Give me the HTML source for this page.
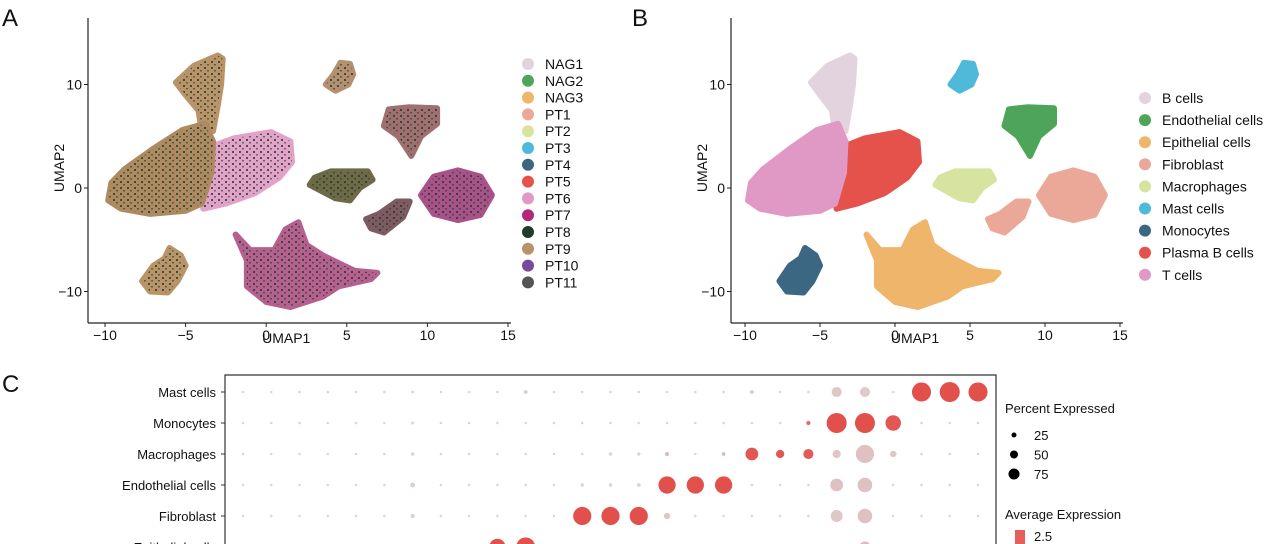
<!DOCTYPE html>
<html><head><meta charset="utf-8">
<style>
html,body{margin:0;padding:0;background:#fff;width:1280px;height:544px;overflow:hidden;font-family:"Liberation Sans",sans-serif;}
svg{position:absolute;left:0;top:0;overflow:hidden}
text{font-family:"Liberation Sans",sans-serif;fill:#111}
</style></head>
<body>
<svg id="fig" width="1280" height="544" viewBox="0 0 1280 544">
<defs>
<pattern id="spk" width="7" height="6" patternUnits="userSpaceOnUse">
<rect x="1" y="1" width="2" height="2" fill="#1f3d2a" opacity="0.8"/>
<rect x="4" y="4" width="2" height="1.5" fill="#1f3d2a" opacity="0.6"/>
</pattern>
<clipPath id="frame"><rect x="0" y="0" width="1280" height="544"/></clipPath>
</defs>
</svg>
<script>
// ---------- data ----------
const clusterNames = ["B cells","Endothelial cells","Epithelial cells","Fibroblast","Macrophages","Mast cells","Monocytes","Plasma B cells","T cells"];
const clusterColorsB = ["#e3d3de","#4ea55a","#efb66b","#eba898","#d6e49f","#4fb9d9","#3c6782","#e5524c","#e098c5"];
const polyBcells = [[-3.0,12.8],[-4.5,11.8],[-5.6,10.2],[-5.0,9.0],[-4.2,7.5],[-4.0,5.5],[-3.3,5.5],[-3.0,8],[-2.8,10],[-2.7,12.5]];
const polyEndo = [[7.6,7.6],[8.8,7.8],[10.6,7.7],[10.6,6.2],[9.6,5.0],[9.0,3.1],[8.2,5.0],[7.3,6.0]];
const polyEpi = [[-1.9,-4.5],[-1.0,-6.0],[0.5,-6.0],[1.2,-4.0],[2.0,-3.3],[2.5,-5.5],[3.5,-6.5],[4.8,-7.5],[5.5,-8.0],[6.9,-8.2],[6.5,-8.8],[4.5,-9.5],[3.5,-10.5],[1.5,-11.5],[0.0,-11.0],[-1.2,-9.5],[-1.2,-7.0]];
const polyFibroBig = [[11.9,1.7],[13.3,1.1],[14.0,-0.7],[13.3,-2.6],[11.9,-3.1],[10.4,-2.5],[9.6,-0.7],[10.4,1.1]];
const polyFibroSmall = [[6.5,-3.9],[7.3,-4.3],[8.5,-2.8],[8.9,-1.3],[8.1,-1.3],[7.0,-2.5],[6.2,-3.0]];
const polyMacro = [[3.0,1.0],[4.0,1.6],[6.3,1.6],[6.6,0.8],[5.8,0.0],[5.2,-1.2],[4.3,-1.0],[2.7,0.3]];
const polyMast = [[4.6,12.1],[5.2,12.0],[5.4,11.0],[5.1,10.0],[4.3,9.4],[3.7,10.0],[4.2,11.0]];
const polyMono = [[-6.0,-5.8],[-5.3,-6.5],[-5.0,-7.5],[-5.5,-9.0],[-6.1,-10.1],[-7.2,-10.0],[-7.7,-9.0],[-7.0,-7.5],[-6.3,-6.8]];
const polyPlasma = [[-3.4,4.0],[-2.0,4.8],[0.3,5.4],[1.5,4.5],[1.6,2.5],[0.8,1.0],[-0.7,-0.5],[-2.5,-1.5],[-3.9,-2.0],[-4.0,-0.5],[-3.5,2.0]];
const polyT = [[-9.8,-1.2],[-9.6,0.5],[-8.8,1.8],[-7.0,3.8],[-5.2,5.6],[-3.8,6.2],[-3.3,4.5],[-3.4,1.5],[-4.0,-1.5],[-5.0,-2.2],[-7.2,-2.5],[-9.0,-2.0]];
const sampleNames = ["NAG1","NAG2","NAG3","PT1","PT2","PT3","PT4","PT5","PT6","PT7","PT8","PT9","PT10","PT11"];
const sampleColors = ["#e3d3de","#4ea55a","#efb66b","#eba898","#d6e49f","#4fb9d9","#3c6782","#e5524c","#e098c5","#b5247f","#1f3d2a","#b99468","#7a4a9a","#555555"];
const umapXTicks = [-10,-5,0,5,10,15];
const umapYTicks = [10,0,-10];

const dotRows = ["Mast cells","Monocytes","Macrophages","Endothelial cells","Fibroblast","Epithelial cells"];
const pctMast = [3,3,3,3,3,3,5,3,3,3,10,3,3,3,3,3,3,3,10,3,3,45,45,3,95,100,95];
const expMast = [0,0,0,0,0,0,0,0,0,0,0.05,0,0,0,0,0,0,0,0.1,0,0,0.1,0.08,0,1,1,1];
const pctMono = [3,3,3,3,3,3,5,3,3,3,3,3,3,3,3,3,3,3,3,3,12,100,100,75,3,3,3];
const expMono = [0,0,0,0,0,0,0,0,0,0,0,0,0,0,0,0,0,0,0,0,0.8,1,1,0.95,0,0,0];
const pctMacro = [3,3,3,3,3,3,8,3,3,3,3,3,3,8,8,12,3,10,60,35,45,35,90,25,3,3,3];
const expMacro = [0,0,0,0,0,0,0,0,0,0,0,0,0,0,0,0.2,0,0.2,0.95,0.95,0.9,0.1,0.15,0.1,0,0,0];
const pctEndo = [3,3,3,3,3,3,15,3,3,3,3,3,8,8,10,85,85,85,3,3,3,60,70,3,3,3,3];
const expEndo = [0,0,0,0,0,0,0.05,0,0,0,0,0,0,0,0,1,1,1,0,0,0,0.15,0.15,0,0,0,0];
const pctFibro = [3,3,3,3,3,3,12,3,3,3,3,3,90,90,90,25,3,3,3,3,3,55,70,3,3,3,3];
const expFibro = [0,0,0,0,0,0,0.05,0,0,0,0,0,1,1,1,0.1,0,0,0,0,0,0.1,0.15,0,0,0,0];
const pctEpi = [3,3,3,3,3,3,3,3,3,80,95,20,3,3,3,3,3,3,3,3,3,3,50,3,3,3,3];
const expEpi = [0,0,0,0,0,0,0,0,0,1,1,0.8,0,0,0,0,0,0,0,0,0,0,0.2,0,0,0,0];
const pctLegend = [25,50,75];

// ---------- helpers ----------
const root = document.getElementById('fig');
const NS = "http://www.w3.org/2000/svg";
const svg = document.createElementNS(NS,'g');
svg.setAttribute('clip-path','url(#frame)');
root.appendChild(svg);
function mk(tag, attrs, parent){const e=document.createElementNS(NS,tag);for(const k in attrs)e.setAttribute(k,attrs[k]);(parent||svg).appendChild(e);return e;}
function txt(x,y,s,size,anchor,parent){const t=mk('text',{x:x,y:y,'font-size':size,'text-anchor':anchor||'start'},parent);t.textContent=s;return t;}

function umapPanel(opt){
  const g = mk('g',{});
  
  
  const sx = v => opt.x0 + (v + 10) * opt.kx;
  const sy = v => 188 - v * 10.35;
  const polys = [polyBcells,polyEndo,polyEpi,polyFibroBig,polyFibroSmall,polyMacro,polyMast,polyMono,polyPlasma,polyT];
  const idx = [0,1,2,3,3,4,5,6,7,8];
  polys.forEach((p,i)=>{
    const pts = p.map(q=>sx(q[0]).toFixed(1)+','+sy(q[1]).toFixed(1)).join(' ');
    const col = opt.fills[i];
    const el = mk('polygon',{points:pts,fill:col,stroke:col,'stroke-width':6,'stroke-linejoin':'round'},g);
    
    
    if(opt.speckle){
      const s = mk('polygon',{points:pts,fill:'url(#spk)'},g);
      
      
    }
  });
  const ax = mk('g',{},g);
  
  
  mk('line',{x1:opt.spineX,y1:18,x2:opt.spineX,y2:323,stroke:'#222','stroke-width':1.2},ax);
  mk('line',{x1:opt.spineX,y1:323,x2:sx(15)+3,y2:323,stroke:'#222','stroke-width':1.2},ax);
  umapXTicks.forEach(t=>{
    mk('line',{x1:sx(t),y1:323,x2:sx(t),y2:327,stroke:'#222'},ax);
    const l = txt(sx(t), 340, t<0?'\u2212'+(-t):String(t), 14, 'middle', ax);
    
    
  });
  umapYTicks.forEach(t=>{
    mk('line',{x1:opt.spineX-4,y1:sy(t),x2:opt.spineX,y2:sy(t),stroke:'#222'},ax);
    const l = txt(opt.spineX-6, sy(t)+5, t<0?'\u2212'+(-t):String(t), 14, 'end', ax);
    
    
  });
  const xt = txt(sx(0)+20, 343, 'UMAP1', 14, 'middle', ax);
  
  
  const yt = txt(0,0,'UMAP2',14,'middle',ax);
  yt.setAttribute('transform','translate('+(opt.spineX-24)+',168) rotate(-90)');
  
  
  const pl = txt(opt.labelX, 26, opt.label, 24, 'start', g);
  
  
  const lg = mk('g',{},g);
  
  
  opt.legNames.forEach((n,i)=>{
    const y = opt.legY0 + i*opt.legDy;
    const c = mk('circle',{cx:opt.legX,cy:y,r:6,fill:opt.legColors[i]},lg);
    
    
    const t = txt(opt.legX+17, y+5, n, 14, 'start', lg);
    
    
  });
}

umapPanel({name:'umap-by-sample', x0:105, kx:16.12, spineX:88, label:'A', labelX:2,
  fills:["#b99468","#a07070","#b5608f","#a85289","#7e5a62","#6e6a48","#b59070","#b99468","#e2a2c9","#ad8a60"],
  speckle:true, legNames:sampleNames, legColors:sampleColors, legX:528, legY0:64, legDy:16.8});
umapPanel({name:'umap-by-celltype', x0:745, kx:15, spineX:731, label:'B', labelX:632,
  fills:[clusterColorsB[0],clusterColorsB[1],clusterColorsB[2],clusterColorsB[3],clusterColorsB[3],clusterColorsB[4],clusterColorsB[5],clusterColorsB[6],clusterColorsB[7],clusterColorsB[8]],
  speckle:false, legNames:clusterNames, legColors:clusterColorsB, legX:1145, legY0:98, legDy:22.1});

// ---------- dot plot ----------
(function(){
  const g = mk('g',{});
  
  
  const pl = txt(2, 392, 'C', 24, 'start', g);
  
  
  const fr = mk('path',{d:'M225,544 V375 H996 V544',fill:'none',stroke:'#333','stroke-width':1.2},g);
  
  
  const cx = i => 243 + i*28.27;
  const cy = r => 392 + r*31;
  const rad = p => 1 + p*0.09;
  const col = e => {
    const a=[221,213,213], b=[226,80,76];
    return 'rgb('+a.map((v,k)=>Math.round(v+(b[k]-v)*e)).join(',')+')';
  };
  const pcts=[pctMast,pctMono,pctMacro,pctEndo,pctFibro,pctEpi];
  const exps=[expMast,expMono,expMacro,expEndo,expFibro,expEpi];
  dotRows.forEach((name,r)=>{
    const t = txt(216, cy(r)+5, name, 13, 'end', g);
    
    
    mk('line',{x1:221,y1:cy(r),x2:225,y2:cy(r),stroke:'#333'},g);
    pcts[r].forEach((p,i)=>{
      const c = mk('circle',{cx:cx(i),cy:cy(r),r:rad(p),fill:col(exps[r][i])},g);
      
      
    });
  });
  const lg = mk('g',{},g);
  
  
  txt(1005, 413, 'Percent Expressed', 13, 'start', lg);
  pctLegend.forEach((p,i)=>{
    const y = 435 + i*19.5;
    const c = mk('circle',{cx:1014,cy:y,r:1+p*0.06,fill:'#000'},lg);
    
    
    txt(1034, y+5, String(p), 13, 'start', lg);
  });
  txt(1005, 519, 'Average Expression', 13, 'start', lg);
  mk('rect',{x:1015,y:530,width:10,height:14,fill:'#e5605a'},lg);
  txt(1034, 541, '2.5', 13, 'start', lg);
})();
</script>
</body></html>
